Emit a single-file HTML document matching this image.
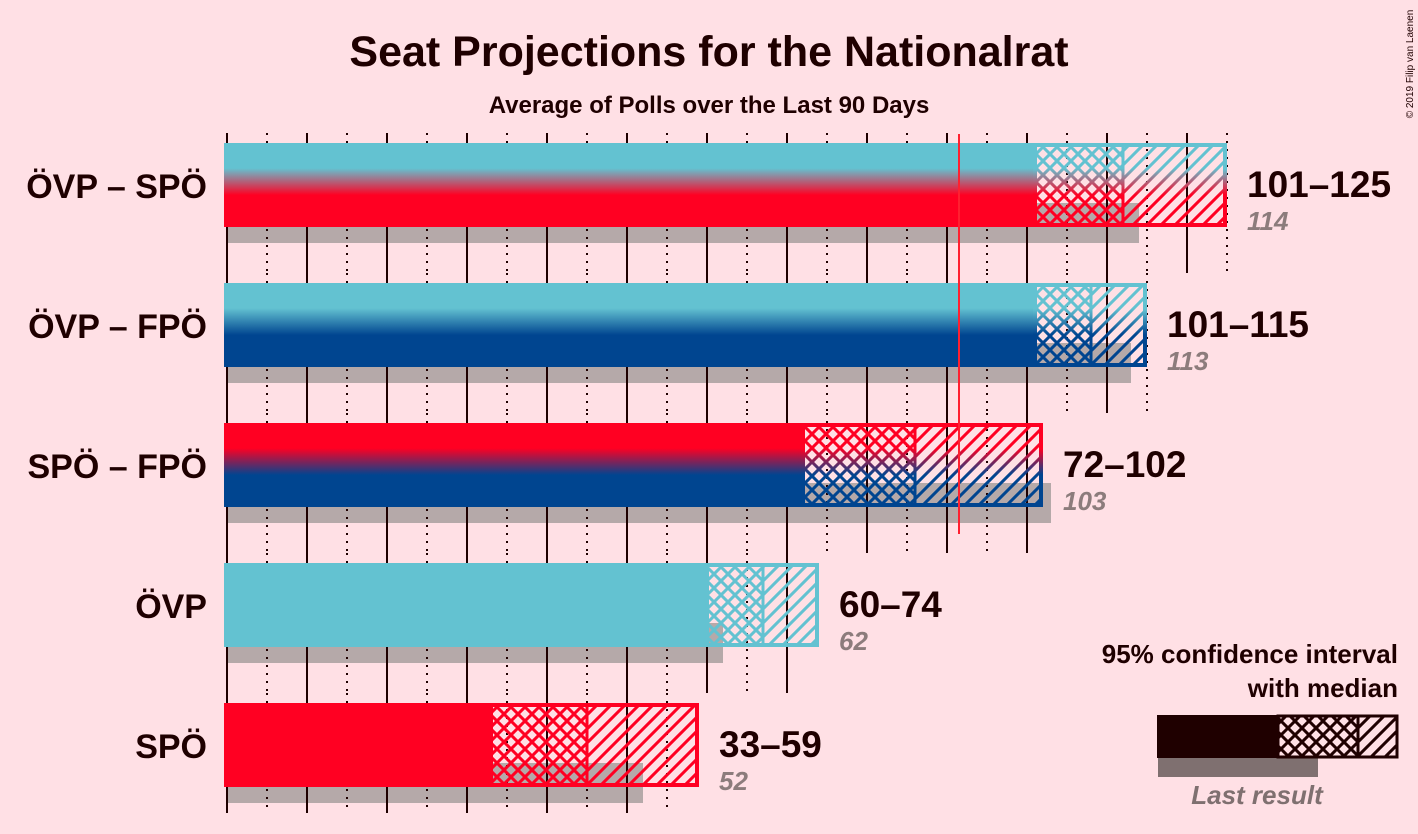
<!DOCTYPE html>
<html><head><meta charset="utf-8"><style>
html,body{margin:0;padding:0;background:#FFE0E5;}
svg{display:block;font-family:"Liberation Sans",sans-serif;}
</style></head><body>
<svg id="c" width="1418" height="834" viewBox="0 0 1418 834">
<defs>
<pattern id="cross" patternUnits="userSpaceOnUse" width="14" height="14"><path d="M-2,2 L2,-2 M0,14 L14,0 M12,16 L16,12 M-2,12 L2,16 M0,0 L14,14 M12,-2 L16,2" stroke="#fff" stroke-width="3"/></pattern>
<pattern id="diag" patternUnits="userSpaceOnUse" width="14" height="14"><path d="M-2,2 L2,-2 M0,14 L14,0 M12,16 L16,12" stroke="#fff" stroke-width="3"/></pattern>
<mask id="mcross" maskUnits="userSpaceOnUse" x="0" y="0" width="1418" height="834"><rect width="1418" height="834" fill="url(#cross)"/></mask>
<mask id="mdiag" maskUnits="userSpaceOnUse" x="0" y="0" width="1418" height="834"><rect width="1418" height="834" fill="url(#diag)"/></mask>
<linearGradient id="g-ovp-spo" x1="0" y1="0" x2="0" y2="1"><stop offset="0.3" stop-color="#63C2D1"/><stop offset="0.62" stop-color="#FF0022"/></linearGradient>
<linearGradient id="g-ovp-fpo" x1="0" y1="0" x2="0" y2="1"><stop offset="0.3" stop-color="#63C2D1"/><stop offset="0.62" stop-color="#004590"/></linearGradient>
<linearGradient id="g-spo-fpo" x1="0" y1="0" x2="0" y2="1"><stop offset="0.3" stop-color="#FF0022"/><stop offset="0.62" stop-color="#004590"/></linearGradient>
</defs>
<text x="709" y="66" text-anchor="middle" font-size="43" font-weight="bold" fill="#1F0000">Seat Projections for the Nationalrat</text>
<text x="709" y="113" text-anchor="middle" font-size="24" font-weight="bold" fill="#1F0000">Average of Polls over the Last 90 Days</text>
<text transform="translate(1413,64) rotate(-90)" text-anchor="middle" font-size="10" fill="#1F0000">© 2019 Filip van Laenen</text>
<g id="plot"></g>
<g>
<text x="1398" y="663" text-anchor="end" font-size="26" font-weight="bold" fill="#1F0000">95% confidence interval</text>
<text x="1398" y="697" text-anchor="end" font-size="26" font-weight="bold" fill="#1F0000">with median</text>
<rect x="1158" y="758" width="160" height="19" fill="#7F7070"/>
<rect x="1157" y="715" width="120" height="43" fill="#1F0000"/>
<rect x="1277" y="715" width="121" height="43" fill="#1F0000" mask="url(#mcross)"/>
<rect x="1358" y="715" width="40" height="43" fill="#FFE0E5"/>
<rect x="1358" y="715" width="40" height="43" fill="#1F0000" mask="url(#mdiag)"/>
<rect x="1278" y="716" width="119" height="41" fill="none" stroke="#1F0000" stroke-width="3"/>
<line x1="1358" y1="715" x2="1358" y2="758" stroke="#1F0000" stroke-width="3"/>
<text x="1257" y="804" text-anchor="middle" font-size="26" font-style="italic" font-weight="bold" fill="#7F7070">Last result</text>
</g>
</svg>
<script>
const labels = ["ÖVP – SPÖ","ÖVP – FPÖ","SPÖ – FPÖ","ÖVP","SPÖ"];
const lows = [101,101,72,60,33];
const medians = [112,108,86,67,45];
const highs = [125,115,102,74,59];
const lastResults = [114,113,103,62,52];
const fills = ["url(#g-ovp-spo)","url(#g-ovp-fpo)","url(#g-spo-fpo)","#63C2D1","#FF0022"];
const majority = 91.5;
const NS="http://www.w3.org/2000/svg";
const x = v => 227 + v*8;
const rowTop = i => 143 + i*140;
const plot = document.getElementById('plot');
function mk(tag, attrs, parent){const e=document.createElementNS(NS,tag);for(const k in attrs)e.setAttribute(k,attrs[k]);(parent||plot).appendChild(e);return e;}
labels.forEach((lab,i)=>{
  const t=rowTop(i), h=84;
  const g=mk('g',{});
  
  
  const gr=mk('rect',{x:x(0),y:t+60,width:x(lastResults[i])-x(0),height:40,fill:'#B5A9A9'},g);
  
  
  for(let v=0; v<=Math.floor(highs[i]/5)*5; v+=5){
    const ln=mk('line',{x1:x(v),x2:x(v),y1:t-10,y2:t+110+(i<4?20:0),stroke:'#1F0000','stroke-width':2,'stroke-dasharray':v%10===0?'none':'2,6'},g);
    
    
  }
  const sb=mk('rect',{x:x(0)-3,y:t,width:x(lows[i])-x(0)+3,height:h,fill:fills[i]},g);
  
  
  const cr=mk('rect',{x:x(lows[i]),y:t,width:x(medians[i])-x(lows[i]),height:h,fill:fills[i],mask:'url(#mcross)'},g);
  
  
  const dg=mk('rect',{x:x(medians[i]),y:t,width:x(highs[i])-x(medians[i]),height:h,fill:fills[i],mask:'url(#mdiag)'},g);
  
  
  const b1=mk('rect',{x:x(lows[i]),y:t+2,width:x(highs[i])-x(lows[i])-2,height:h-4,fill:'none',stroke:fills[i],'stroke-width':4},g);
  
  
  const md=mk('rect',{x:x(medians[i])-1.5,y:t,width:3,height:h,fill:fills[i]},g);
  
  
  const nl=mk('text',{x:207,y:t+55,'text-anchor':'end','font-size':34,'font-weight':'bold',fill:'#1F0000'},g);
  nl.textContent=lab;
  
  
  const rl=mk('text',{x:x(highs[i])+20,y:t+54,'font-size':37,'font-weight':'bold',fill:'#1F0000'},g);
  rl.textContent=lows[i]+'–'+highs[i];
  
  
  const ll=mk('text',{x:x(highs[i])+20,y:t+87,'font-size':26,'font-style':'italic','font-weight':'bold',fill:'#8C7C7C'},g);
  ll.textContent=lastResults[i];
  
  
});
const mj=mk('line',{x1:x(majority),x2:x(majority),y1:134,y2:534,stroke:'#FF2030','stroke-width':2});


</script>
</body></html>
